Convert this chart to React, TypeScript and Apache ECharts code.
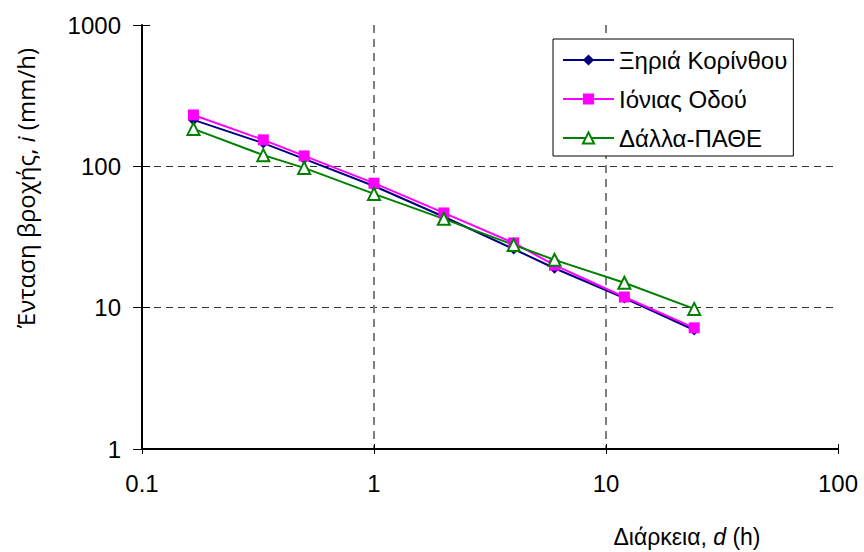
import React, { useEffect, useRef } from "react";
import * as echarts from "echarts";

const durations = [1 / 6, 1 / 3, 0.5, 1, 2, 4, 6, 12, 24];
const seriesNames = ["Ξηριά Κορίνθου", "Ιόνιας Οδού", "Δάλλα-ΠΑΘΕ"];
const xiria = [213, 146, 113, 72.6, 44, 26, 19, 11.7, 6.95];
const ionia = [231, 154, 118.5, 76, 46.8, 28.7, 20, 11.9, 7.2];
const dalla = [184, 120, 97.5, 63.8, 42.5, 27.8, 21.8, 15, 9.8];
const xTitle = ["Διάρκεια, ", "d", " (h)"];
const yTitle = ["Ένταση βροχής, ", "i", " (mm/h)"];

const pairs = (ys: number[]) => durations.map((d, i) => [d, ys[i]]);

export default function App() {
  const ref = useRef<HTMLDivElement>(null);
  useEffect(() => {
    if (!ref.current) return;
    const chart = echarts.init(ref.current, null, { renderer: "svg" });
    const font = "'Liberation Sans', Arial, sans-serif";
    const grid = { left: 142, right: 26, top: 25, bottom: 103, outerBoundsMode: "none", containLabel: false };
    const baseX = { type: "log", logBase: 10, min: 0.1, max: 100, gridIndex: 0 };
    const baseY = { type: "log", logBase: 10, min: 1, max: 1000, gridIndex: 0 };
    const fmt = (v: number) => String(v);
    chart.setOption({
      animation: false,
      backgroundColor: "#ffffff",
      grid,
      legend: {
        left: 553,
        top: 39,
        orient: "vertical",
        backgroundColor: "#ffffff",
        borderColor: "#000000",
        borderWidth: 1,
        borderRadius: 0,
        padding: [9, 6, 6, 9],
        itemGap: 15,
        itemWidth: 51,
        itemHeight: 14,
        textStyle: { fontFamily: font, fontSize: 24, color: "#000" },
        data: seriesNames,
      },
      xAxis: [
        {
          ...baseX,
          position: "bottom",
          axisLine: { show: true, lineStyle: { color: "#000", width: 2 } },
          axisTick: { show: true, inside: false, length: 5, lineStyle: { color: "#000", width: 1 } },
          axisLabel: { fontFamily: font, fontSize: 24, color: "#000", margin: 22, formatter: fmt },
          splitLine: {
            show: true,
            showMinLine: false,
            showMaxLine: false,
            lineStyle: { color: "#808080", width: 2, type: [8, 6] },
          },
          minorTick: { show: false },
        },
        {
          ...baseX,
          position: "bottom",
          axisLine: { show: false },
          axisTick: { show: true, inside: true, length: 5, lineStyle: { color: "#000", width: 1 } },
          axisLabel: { show: false },
          splitLine: { show: false },
        },
      ],
      yAxis: [
        {
          ...baseY,
          position: "left",
          axisLine: { show: true, lineStyle: { color: "#000", width: 2 } },
          axisTick: { show: true, inside: false, length: 9, lineStyle: { color: "#000", width: 1 } },
          axisLabel: { fontFamily: font, fontSize: 24, color: "#000", margin: 21, formatter: fmt },
          splitLine: {
            show: true,
            showMinLine: false,
            showMaxLine: false,
            lineStyle: { color: "#333333", width: 1.2, type: [7, 5] },
          },
        },
        {
          ...baseY,
          position: "left",
          axisLine: { show: false },
          axisTick: { show: true, inside: true, length: 8, lineStyle: { color: "#000", width: 1 } },
          axisLabel: { show: false },
          splitLine: { show: false },
        },
      ],
      graphic: [
        {
          type: "text",
          x: 25,
          y: 188,
          rotation: Math.PI / 2,
          style: {
            text: `{a|${yTitle[0]}}{b|${yTitle[1]}}{a|${yTitle[2]}}`,
            align: "center",
            verticalAlign: "middle",
            textAlign: "center",
            textVerticalAlign: "middle",
            fill: "#000",
            rich: {
              a: { fontFamily: "'Open Sans', 'Noto Sans', sans-serif", fontSize: 24, fill: "#000" },
              b: { fontFamily: "'Open Sans', 'Noto Sans', sans-serif", fontSize: 24, fontStyle: "italic", fill: "#000" },
            },
          },
        },
        {
          type: "text",
          x: 687,
          y: 537,
          style: {
            text: `{a|${xTitle[0]}}{b|${xTitle[1]}}{a|${xTitle[2]}}`,
            align: "center",
            verticalAlign: "middle",
            textAlign: "center",
            textVerticalAlign: "middle",
            fill: "#000",
            rich: {
              a: { fontFamily: font, fontSize: 23, fill: "#000" },
              b: { fontFamily: font, fontSize: 23, fontStyle: "italic", fill: "#000" },
            },
          },
        },
      ],
      series: [
        {
          name: seriesNames[0],
          type: "line",
          xAxisIndex: 0,
          yAxisIndex: 0,
          data: pairs(xiria),
          symbol: "diamond",
          symbolSize: 11,
          lineStyle: { color: "#000080", width: 2 },
          itemStyle: { color: "#000080" },
        },
        {
          name: seriesNames[1],
          type: "line",
          xAxisIndex: 0,
          yAxisIndex: 0,
          data: pairs(ionia),
          symbol: "rect",
          symbolSize: 11,
          lineStyle: { color: "#FF00FF", width: 2 },
          itemStyle: { color: "#FF00FF" },
        },
        {
          name: seriesNames[2],
          type: "line",
          xAxisIndex: 0,
          yAxisIndex: 0,
          data: pairs(dalla),
          symbol: "triangle",
          symbolSize: 12,
          lineStyle: { color: "#008000", width: 2 },
          itemStyle: { color: "#ffffff", borderColor: "#008000", borderWidth: 2 },
        },
      ],
    } as any);
    return () => chart.dispose();
  }, []);
  return <div ref={ref} style={{ position: "fixed", left: 0, top: 0, width: 864, height: 552 }} />;
}
